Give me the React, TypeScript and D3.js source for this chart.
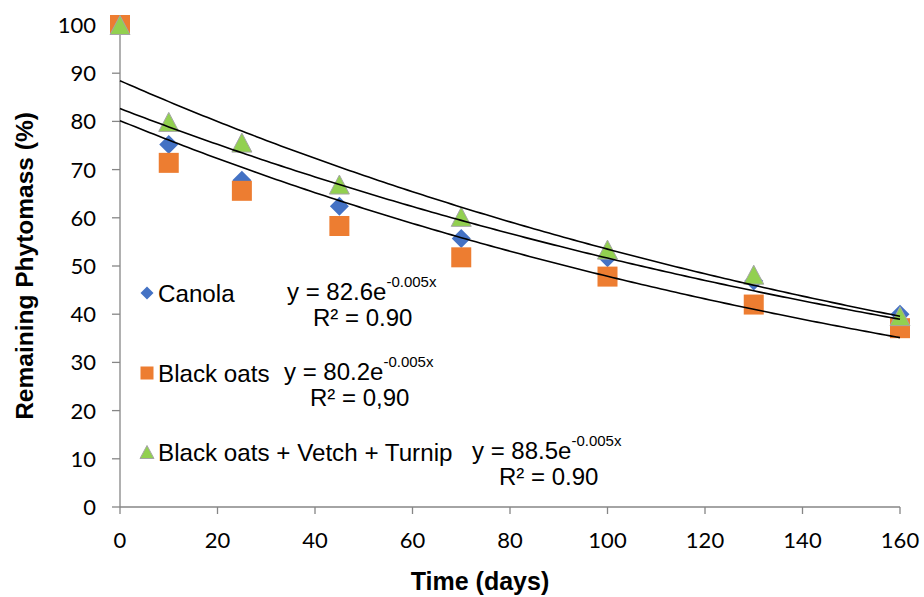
import React from "react";
import * as d3 from "d3";

const days = [0, 10, 25, 45, 70, 100, 130, 160];
const canola = [100, 75.2, 67.8, 62.4, 55.7, 51.7, 46.9, 40.0];
const blackOats = [100, 71.4, 65.6, 58.3, 51.8, 47.8, 42.0, 37.1];
const mix = [100, 79.9, 75.6, 66.9, 60.2, 53.4, 48.2, 39.6];
const seriesNames = ["Canola", "Black oats", "Black oats + Vetch + Turnip"];
const equations = ["y = 82.6e", "y = 80.2e", "y = 88.5e"];
const exponentLabel = "-0.005x";
const r2Labels = ["R² = 0.90", "R² = 0,90", "R² = 0.90"];
const xTicks = [0, 20, 40, 60, 80, 100, 120, 140, 160];
const yTicks = [0, 10, 20, 30, 40, 50, 60, 70, 80, 90, 100];

const W = 924;
const H = 597;
const M = { left: 120, right: 24, top: 25, bottom: 90 };

function expFit(xs: number[], ys: number[]) {
  const ly = ys.map((v) => Math.log(v));
  const mx = d3.mean(xs) as number;
  const my = d3.mean(ly) as number;
  let sxy = 0, sxx = 0;
  xs.forEach((x, i) => {
    sxy += (x - mx) * (ly[i] - my);
    sxx += (x - mx) * (x - mx);
  });
  const k = sxy / sxx;
  const a = Math.exp(my - k * mx);
  return (x: number) => a * Math.exp(k * x);
}

export default function App() {
  const x = d3.scaleLinear().domain([0, 160]).range([M.left, W - M.right]);
  const y = d3.scaleLinear().domain([0, 100]).range([H - M.bottom, M.top]);
  const data = [canola, blackOats, mix];
  const colors = ["#4472C4", "#ED7D31", "#92D050"];
  const fits = data.map((s) => expFit(days, s));
  const lineGen = (f: (v: number) => number) =>
    d3
      .line<number>()
      .x((d) => x(d))
      .y((d) => y(f(d)))(d3.range(0, 160.5, 1));

  const diamond = (cx: number, cy: number, r: number) =>
    `M${cx},${cy - r}L${cx + r},${cy}L${cx},${cy + r}L${cx - r},${cy}Z`;
  const tri = (cx: number, cy: number, h: number, w: number) =>
    `M${cx},${cy - h / 2}L${cx + w / 2},${cy + h / 2}L${cx - w / 2},${cy + h / 2}Z`;

  const marker = (si: number, cx: number, cy: number, big: boolean, key: string) => {
    if (si === 0)
      return <path key={key} d={diamond(cx, cy, big ? 9.5 : 6.5)} fill={colors[0]} />;
    if (si === 1) {
      const s = big ? 20 : 13;
      return <rect key={key} x={cx - s / 2} y={cy - s / 2} width={s} height={s} fill={colors[1]} />;
    }
    return (
      <path
        key={key}
        d={big ? tri(cx, cy, 19, 20) : tri(cx, cy, 13, 14)}
        fill={colors[2]}
        stroke="#A5A5A5"
        strokeWidth={1}
      />
    );
  };

  const legendY = [293, 373, 452];
  const eqPos = [
    { x: 287, y: 300, rx: 313, ry: 326 },
    { x: 284, y: 380, rx: 310, ry: 406 },
    { x: 472, y: 459, rx: 499, ry: 485 },
  ];

  const tickFont = "Lato, 'Open Sans', sans-serif";
  const textFont = "'Liberation Sans', Arial, sans-serif";
  const axisColor = "#868686";

  return (
    <svg
      width={W}
      height={H}
      style={{ position: "absolute", left: 0, top: 0, background: "#fff" }}
    >
      <rect width={W} height={H} fill="#fff" />
      {/* axes */}
      <line x1={x(0)} x2={x(0)} y1={y(0)} y2={y(100)} stroke={axisColor} strokeWidth={1.3} />
      <line x1={x(0)} x2={x(160)} y1={y(0)} y2={y(0)} stroke={axisColor} strokeWidth={1.3} />
      {yTicks.map((t) => (
        <g key={"yt" + t}>
          <line x1={x(0) - 8} x2={x(0)} y1={y(t)} y2={y(t)} stroke={axisColor} strokeWidth={1.3} />
          <text
            x={96}
            y={y(t)}
            dy="0.36em"
            textAnchor="end"
            fontFamily={tickFont}
            fontSize={22}
            fill="#000"
          >
            {t}
          </text>
        </g>
      ))}
      {xTicks.map((t) => (
        <g key={"xt" + t}>
          <line x1={x(t)} x2={x(t)} y1={y(0)} y2={y(0) + 7} stroke={axisColor} strokeWidth={1.3} />
          <text
            x={x(t)}
            y={548}
            textAnchor="middle"
            fontFamily={tickFont}
            fontSize={22}
            fill="#000"
          >
            {t}
          </text>
        </g>
      ))}
      {/* axis titles */}
      <text
        transform={`translate(33,${266}) rotate(-90)`}
        textAnchor="middle"
        fontFamily={textFont}
        fontWeight="bold"
        fontSize={24.5}
      >
        Remaining Phytomass (%)
      </text>
      <text
        x={480}
        y={590}
        textAnchor="middle"
        fontFamily={textFont}
        fontWeight="bold"
        fontSize={25}
      >
        Time (days)
      </text>
      {/* markers */}
      {data.map((s, si) =>
        s.map((v, i) => marker(si, x(days[i]), y(v), true, `m${si}-${i}`))
      )}
      {/* trendlines */}
      {fits.map((f, i) => (
        <path key={"fit" + i} d={lineGen(f) || ""} fill="none" stroke="#000" strokeWidth={1.6} />
      ))}
      {/* legend */}
      {seriesNames.map((n, i) => (
        <g key={"lg" + i}>
          {marker(i, 147, legendY[i], false, "lm" + i)}
          <text x={158} y={legendY[i] + 9} fontFamily={textFont} fontSize={24.2}>
            {n}
          </text>
        </g>
      ))}
      {/* equations */}
      {eqPos.map((p, i) => (
        <g key={"eq" + i}>
          <text x={p.x} y={p.y} fontFamily={textFont} fontSize={24}>
            {equations[i]}
            <tspan fontSize={15} dy={-13}>
              {exponentLabel}
            </tspan>
          </text>
          <text x={p.rx} y={p.ry} fontFamily={textFont} fontSize={24}>
            {r2Labels[i]}
          </text>
        </g>
      ))}
    </svg>
  );
}
